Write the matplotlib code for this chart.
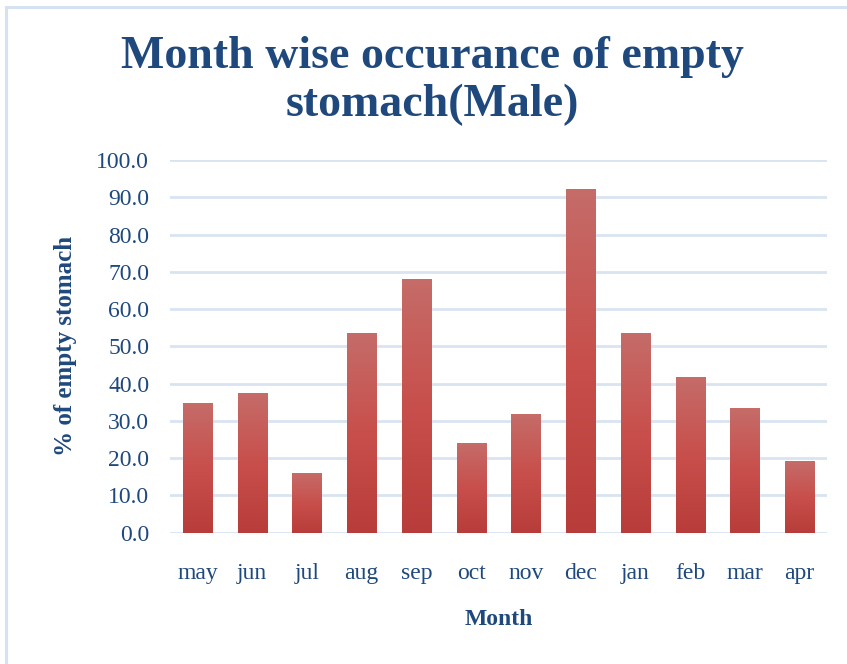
import matplotlib
matplotlib.use("Agg")
import matplotlib.pyplot as plt
import numpy as np
from matplotlib.colors import LinearSegmentedColormap
from matplotlib.lines import Line2D

months = ["may", "jun", "jul", "aug", "sep", "oct", "nov", "dec", "jan", "feb", "mar", "apr"]
values = [34.8, 37.5, 16.0, 53.6, 68.1, 24.1, 31.8, 92.2, 53.6, 41.8, 33.5, 19.3]
yticks = [0, 10, 20, 30, 40, 50, 60, 70, 80, 90, 100]

title = "Month wise occurance of empty\nstomach(Male)"
xlabel = "Month"
ylabel = "% of empty stomach"

navy = "#1F497D"
grid_c = "#D9E3F2"
serif = ["Liberation Serif", "DejaVu Serif"]

W, H = 847, 664
fig = plt.figure(figsize=(W / 100, H / 100), dpi=100)
fig.patch.set_facecolor("white")

# light blue chart border (top and left)
fig.add_artist(Line2D([6 / W, 6 / W], [0, 1 - 7 / H], transform=fig.transFigure,
                      color="#D6E1F1", lw=2.2))
fig.add_artist(Line2D([6 / W, 1], [1 - 7 / H, 1 - 7 / H], transform=fig.transFigure,
                      color="#D6E1F1", lw=2.2))

left, right = 170 / W, 827 / W
bottom, top = 1 - 532.7 / H, 1 - 160 / H
ax = fig.add_axes([left, bottom, right - left, top - bottom])

x = np.arange(len(months))
bars = ax.bar(x, values, width=0.53, color="#C0504D", zorder=3)

cmap = LinearSegmentedColormap.from_list(
    "g", [(0.0, "#B83D3A"), (0.5, "#C84F4B"), (1.0, "#C56C69")])
grad = np.linspace(0, 1, 256).reshape(-1, 1)
for b in bars:
    bx, by, bw, bh = b.get_x(), b.get_y(), b.get_width(), b.get_height()
    im = ax.imshow(grad, cmap=cmap, origin="lower", aspect="auto",
                   extent=[bx, bx + bw, by, by + bh], zorder=4)
    im.set_clip_path(b)

ax.set_xlim(-0.5, len(months) - 0.5)
ax.set_ylim(0, 100)
ax.set_yticks(yticks)
ax.set_yticklabels([f"{v:.1f}" for v in yticks], fontfamily=serif,
                   fontsize=17, color=navy)
ax.set_xticks(x)
ax.set_xticklabels(months, fontfamily=serif, fontsize=17, color=navy)
ax.tick_params(axis="both", length=0)
ax.tick_params(axis="y", pad=15)
ax.tick_params(axis="x", pad=22)

for s in ax.spines.values():
    s.set_visible(False)
ax.yaxis.grid(True, color=grid_c, lw=2, zorder=0)
ax.set_axisbelow(True)

ax.set_xlabel(xlabel, fontfamily=serif, fontsize=17, fontweight="bold",
              color=navy, labelpad=18)
ax.set_ylabel(ylabel, fontfamily=serif, fontsize=18, fontweight="bold",
              color=navy, labelpad=14)

fig.text(432 / W, 1 - 81 / H, title, ha="center", va="center",
         fontfamily=serif, fontsize=33, fontweight="bold", color=navy,
         linespacing=1.18)

fig.savefig("out.png", dpi=100, facecolor="white")
